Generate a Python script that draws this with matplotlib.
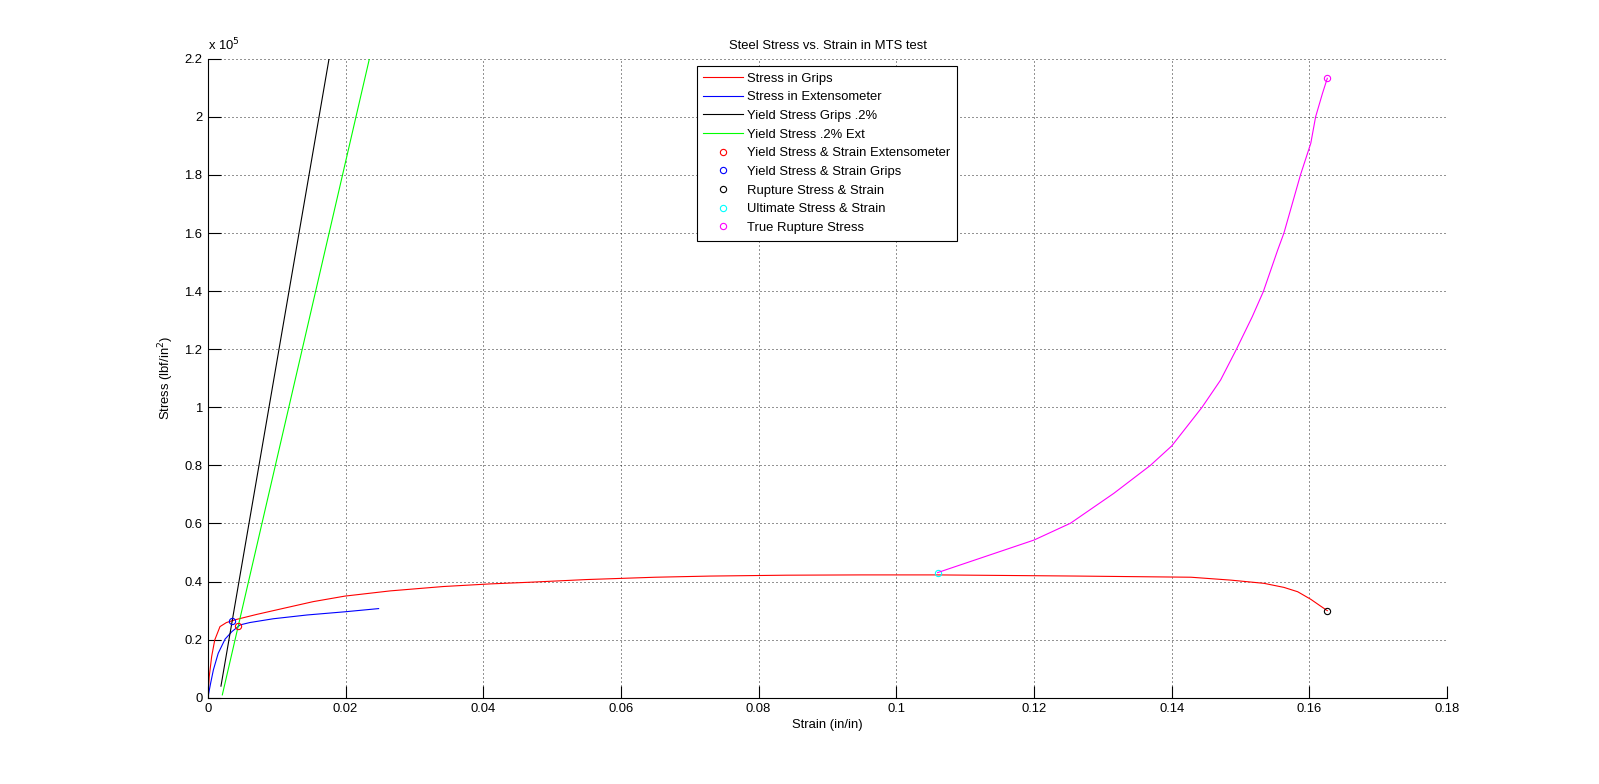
import matplotlib
matplotlib.use("Agg")
import matplotlib.pyplot as plt
from matplotlib.ticker import FuncFormatter

plt.rcParams['font.family'] = ['Liberation Sans', 'DejaVu Sans']
plt.rcParams['font.size'] = 9.4

# stress in grips (strain in/in, stress lbf/in^2)
grips_strain = [0, 0.0002, 0.00055, 0.001, 0.00176, 0.0027, 0.0042, 0.0071, 0.011, 0.0153,
                0.0199, 0.0265, 0.0342, 0.041, 0.047, 0.055, 0.065, 0.073, 0.084, 0.095,
                0.106, 0.1263, 0.1428, 0.1486, 0.1534, 0.1563, 0.1583, 0.1602, 0.1616, 0.1626]
grips_stress = [0, 7300, 14200, 19900, 24500, 25900, 27000, 28700, 30800, 33100,
                35000, 36800, 38300, 39200, 39800, 40700, 41500, 41900, 42200, 42300,
                42300, 41900, 41500, 40500, 39400, 38000, 36500, 33900, 31600, 30000]

# stress in extensometer
ext_strain = [0, 0.0004, 0.0008, 0.0015, 0.0025, 0.0035, 0.0047, 0.0061, 0.0095, 0.0144, 0.0199, 0.0248]
ext_stress = [0, 5000, 9600, 15300, 20200, 22800, 25100, 25900, 27200, 28500, 29600, 30700]

# .2% offset lines
offset_grips_strain = [0.0019, 0.0176]
offset_grips_stress = [4000, 220000]
offset_ext_strain = [0.0021, 0.02346]
offset_ext_stress = [1000, 220000]

# single points
yield_ext = (0.0044, 24800)
yield_grips = (0.00355, 26500)
rupture = (0.1626, 30000)
ultimate = (0.1060, 43000)
true_rupture = (0.1626, 213300)

# true stress after ultimate
true_strain = [0.106, 0.12, 0.1253, 0.1316, 0.1369, 0.14, 0.1444, 0.1471, 0.1494, 0.1517,
               0.1533, 0.1554, 0.1563, 0.1587, 0.1602, 0.1609, 0.1619, 0.1626]
true_stress = [43100, 54300, 60100, 70400, 80000, 86700, 100000, 109400, 120000, 131200,
               139800, 154200, 160000, 180000, 190900, 200000, 208100, 213300]

fig = plt.figure(figsize=(15.99, 7.84), dpi=100)
ax = fig.add_axes([0.13, 0.11, 0.775, 0.815])

lw = 0.8
ax.plot(grips_strain, grips_stress, color=(1, 0, 0), lw=lw, label="Stress in Grips")
ax.plot(ext_strain, ext_stress, color=(0, 0, 1), lw=lw, label="Stress in Extensometer")
ax.plot(offset_grips_strain, offset_grips_stress, color='k', lw=lw, label="Yield Stress Grips .2%")
ax.plot(offset_ext_strain, offset_ext_stress, color=(0, 1, 0), lw=lw, label="Yield Stress .2% Ext")

mk = dict(marker='o', ms=4.5, mfc='none', mew=0.8, ls='none')
ax.plot([yield_ext[0]], [yield_ext[1]], color=(1, 0, 0), label="Yield Stress & Strain Extensometer", **mk)
ax.plot([yield_grips[0]], [yield_grips[1]], color=(0, 0, 1), label="Yield Stress & Strain Grips", **mk)
ax.plot([rupture[0]], [rupture[1]], color='k', label="Rupture Stress & Strain", **mk)
ax.plot([ultimate[0]], [ultimate[1]], color=(0, 1, 1), label="Ultimate Stress & Strain", **mk)
ax.plot([true_rupture[0]], [true_rupture[1]], color=(1, 0, 1), label="True Rupture Stress", **mk)
ax.plot(true_strain, true_stress, color=(1, 0, 1), lw=lw)

ax.set_xlim(0, 0.18)
ax.set_ylim(0, 220000)
ax.set_xticks([i * 0.02 for i in range(10)])
ax.set_yticks([i * 20000 for i in range(12)])
ax.xaxis.set_major_formatter(FuncFormatter(lambda v, p: '%g' % round(v, 4)))
ax.yaxis.set_major_formatter(FuncFormatter(lambda v, p: '%g' % round(v / 1e5, 2)))
ax.tick_params(direction='in', length=9, width=0.8, pad=4)

ax.grid(True, color='k', lw=0.6, linestyle=(0, (1.2, 3.6)))
ax.spines['top'].set_visible(False)
ax.spines['right'].set_visible(False)
ax.spines['left'].set_linewidth(0.8)
ax.spines['bottom'].set_linewidth(0.8)

ax.text(0.0, 1.008, r'x 10$^5$', transform=ax.transAxes, ha='left', va='bottom')
ax.set_title("Steel Stress vs. Strain in MTS test", fontsize=9.4, pad=7)
ax.set_xlabel("Strain (in/in)", labelpad=3)
ax.set_ylabel(r"Stress (lbf/in$^2$)", labelpad=6)

leg = ax.legend(loc='upper left', bbox_to_anchor=(696.7 / 1599, 1 - 66 / 784),
                bbox_transform=fig.transFigure, borderaxespad=0, fancybox=False,
                framealpha=1, edgecolor='k', handlelength=3.06, handletextpad=0.33,
                labelspacing=0.5, borderpad=0.5)
leg.get_frame().set_linewidth(0.8)

plt.savefig("out.png", dpi=100)
